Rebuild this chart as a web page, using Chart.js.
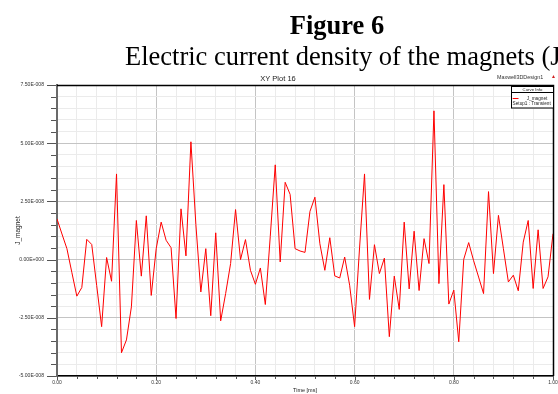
<!DOCTYPE html>
<html>
<head>
<meta charset="utf-8">
<script src="https://cdn.jsdelivr.net/npm/chart.js@4.4.1/dist/chart.umd.min.js"></script>
<style>
html,body{margin:0;padding:0;background:#fff;}
#wrap{position:relative;width:558px;height:394px;}
canvas{display:block;}
</style>
</head>
<body>
<div id="wrap"><canvas id="c" width="558" height="394"></canvas></div>
<script>
const figureTitle = 'Figure 6';
const figureSubtitle = 'Electric current density of the magnets (J';
const plotTitle = 'XY Plot 16';
const designName = 'Maxwell3DDesign1';
const seriesName = 'J_magnet';
const setupName = 'Setup1 : Transient';
const xTitle = 'Time [ms]';
const yTitle = 'J_magnet';

const timeMs = [0.00,0.01,0.02,0.03,0.04,0.05,0.06,0.07,0.08,0.09,
  0.10,0.11,0.12,0.13,0.14,0.15,0.16,0.17,0.18,0.19,
  0.20,0.21,0.22,0.23,0.24,0.25,0.26,0.27,0.28,0.29,
  0.30,0.31,0.32,0.33,0.34,0.35,0.36,0.37,0.38,0.39,
  0.40,0.41,0.42,0.43,0.44,0.45,0.46,0.47,0.48,0.49,
  0.50,0.51,0.52,0.53,0.54,0.55,0.56,0.57,0.58,0.59,
  0.60,0.61,0.62,0.63,0.64,0.65,0.66,0.67,0.68,0.69,
  0.70,0.71,0.72,0.73,0.74,0.75,0.76,0.77,0.78,0.79,
  0.80,0.81,0.82,0.83,0.84,0.85,0.86,0.87,0.88,0.89,
  0.90,0.91,0.92,0.93,0.94,0.95,0.96,0.97,0.98,0.99,
  1.00];

const jMagnet = [1.75e-8,1.1e-8,0.47e-8,-0.56e-8,-1.57e-8,-1.2e-8,0.87e-8,0.65e-8,-1.11e-8,-2.88e-8,
  0.09e-8,-0.93e-8,3.68e-8,-4.0e-8,-3.45e-8,-2.03e-8,1.68e-8,-0.71e-8,1.88e-8,-1.54e-8,
  0.47e-8,1.61e-8,0.83e-8,0.51e-8,-2.53e-8,2.18e-8,0.16e-8,5.06e-8,1.5e-8,-1.39e-8,
  0.47e-8,-2.41e-8,1.15e-8,-2.63e-8,-1.46e-8,-0.17e-8,2.15e-8,0.0,0.86e-8,-0.46e-8,
  -1.06e-8,-0.36e-8,-1.93e-8,1.0e-8,4.07e-8,-0.1e-8,3.32e-8,2.8e-8,0.47e-8,0.37e-8,
  0.31e-8,2.07e-8,2.68e-8,0.68e-8,-0.46e-8,0.94e-8,-0.7e-8,-0.79e-8,0.11e-8,-1.1e-8,
  -2.88e-8,0.5e-8,3.68e-8,-1.71e-8,0.64e-8,-0.6e-8,0.06e-8,-3.31e-8,-0.71e-8,-2.14e-8,
  1.61e-8,-1.26e-8,1.22e-8,-1.33e-8,0.9e-8,-0.17e-8,6.39e-8,-1.03e-8,3.22e-8,-1.91e-8,
  -1.31e-8,-3.53e-8,0.01e-8,0.73e-8,-0.05e-8,-0.75e-8,-1.46e-8,2.92e-8,-0.6e-8,1.9e-8,
  0.47e-8,-0.96e-8,-0.67e-8,-1.34e-8,0.75e-8,1.68e-8,-1.24e-8,1.28e-8,-1.24e-8,-0.74e-8,
  1.11e-8];

const xMin = 0, xMax = 1, xMinorStep = 0.04, xMajorStep = 0.2;
const yMin = -5e-8, yMax = 7.5e-8, yMinorStep = 0.5e-8, yMajorStep = 2.5e-8;

function isMajor(v, step){ return Math.abs(Math.round(v/step)*step - v) < step*1e-6; }
function fmtExp(v){
  const s = v.toExponential(2);
  const [m, e] = s.split('e');
  const sign = e[0] === '-' ? '-' : '+';
  const digits = e.replace(/[+-]/,'');
  return m + 'E' + sign + digits.padStart(3,'0');
}

const points = timeMs.map((t,i)=>({x:t, y:jMagnet[i]}));
const SANS = '"Liberation Sans", Arial, sans-serif';
const SERIF = '"Liberation Serif", "Times New Roman", serif';

const deco = {
  id:'deco',
  beforeDraw(chart){
    const c = chart.ctx;
    c.save(); c.fillStyle='#fff'; c.fillRect(0,0,chart.width,chart.height); c.restore();
  },
  afterDraw(chart){
    const c = chart.ctx, a = chart.chartArea, xs = chart.scales.x, ys = chart.scales.y;
    c.save();
    // top and right frame
    c.strokeStyle='#000'; c.lineWidth=1.5;
    c.beginPath();
    c.moveTo(a.left, a.top+0.5); c.lineTo(a.right+0.5, a.top+0.5); c.lineTo(a.right+0.5, a.bottom);
    c.stroke();
    // y tick marks
    c.strokeStyle='#555'; c.lineWidth=1;
    ys.ticks.forEach(t=>{
      const py = Math.round(ys.getPixelForValue(t.value))+0.5;
      const len = isMajor(t.value, yMajorStep) ? 9 : 5;
      c.beginPath(); c.moveTo(a.left-1-len, py); c.lineTo(a.left-1, py); c.stroke();
    });
    // x tick marks
    xs.ticks.forEach(t=>{
      const px = Math.round(xs.getPixelForValue(t.value))+0.5;
      const len = isMajor(t.value, xMajorStep) ? 4 : 3;
      c.beginPath(); c.moveTo(px, a.bottom); c.lineTo(px, a.bottom+len); c.stroke();
    });
    // headings
    c.fillStyle='#000';
    c.textBaseline='alphabetic';
    c.font = 'bold 26.5px ' + SERIF; c.textAlign='center';
    c.fillText(figureTitle, 337, 34);
    c.font = '26.5px ' + SERIF; c.textAlign='left';
    c.fillText(figureSubtitle, 125, 65);
    c.textBaseline='middle';
    c.fillStyle='#222';
    c.font = '7.5px ' + SANS; c.textAlign='center';
    c.fillText(plotTitle, 278, 78.5);
    c.font = '5.4px ' + SANS; c.textAlign='left';
    c.fillStyle='#333';
    c.fillText(designName, 497, 78);
    c.fillStyle='#d02020';
    c.font = '5px ' + SANS;
    c.fillText('\u25B2', 551, 77);
    // legend box
    c.fillStyle='#fff';
    c.fillRect(511.5, 86.5, 42, 21.5);
    c.strokeStyle='#000'; c.lineWidth=1;
    c.strokeRect(511.5, 86.5, 42, 21.5);
    c.beginPath(); c.moveTo(511.5, 92.5); c.lineTo(553.5, 92.5); c.stroke();
    c.fillStyle='#222';
    c.font = '4.3px ' + SANS; c.textAlign='center';
    c.fillText('Curve Info', 532.5, 89.6);
    c.strokeStyle='#ff0000'; c.lineWidth=1;
    c.beginPath(); c.moveTo(512.7, 98.5); c.lineTo(518.5, 98.5); c.stroke();
    c.font = '4.7px ' + SANS; c.textAlign='left';
    c.fillText(seriesName, 526.7, 98.3);
    c.fillText(setupName, 512.6, 103.6);
    c.restore();
  }
};

new Chart(document.getElementById('c'), {
  type:'line',
  data:{datasets:[{
    label: seriesName,
    data: points,
    borderColor:'#ff0000',
    borderWidth:1,
    pointRadius:0,
    tension:0,
    fill:false
  }]},
  options:{
    responsive:false,
    animation:false,
    events:[],
    layout:{padding:{top:85,right:5,left:0,bottom:0}},
    plugins:{legend:{display:false},tooltip:{enabled:false},title:{display:false}},
    scales:{
      x:{
        type:'linear', min:xMin, max:xMax,
        ticks:{stepSize:xMinorStep, autoSkip:false, maxRotation:0, padding:4,
          color:'#333', font:{size:5, family:SANS},
          callback:(v)=> isMajor(v, xMajorStep) ? v.toFixed(2) : ''},
        grid:{drawTicks:false, lineWidth:1,
          color:(ctx)=> (ctx.tick && isMajor(ctx.tick.value, xMajorStep)) ? '#c4c4c4' : '#ebebeb'},
        border:{display:true, color:'#000', width:1.5},
        title:{display:true, text:xTitle, color:'#222', font:{size:5.5, family:SANS}, padding:{top:0,bottom:0}},
        afterFit:(s)=>{ s.height = 18; s.paddingLeft = 0; s.paddingRight = 0; }
      },
      y:{
        type:'linear', min:yMin, max:yMax,
        ticks:{stepSize:yMinorStep, autoSkip:false, padding:13,
          color:'#333', font:{size:5.1, family:SANS},
          callback:(v)=> isMajor(v, yMajorStep) ? fmtExp(Math.round(v/yMajorStep)*yMajorStep) : ''},
        grid:{drawTicks:false, lineWidth:1,
          color:(ctx)=> (ctx.tick && isMajor(ctx.tick.value, yMajorStep)) ? '#c4c4c4' : '#ebebeb'},
        border:{display:true, color:'#6a6a6a', width:2},
        title:{display:true, text:yTitle, color:'#222', font:{size:6.5, family:SANS}, padding:{top:14,bottom:0}},
        afterFit:(s)=>{ s.width = 57; s.paddingTop = 0; s.paddingBottom = 0; }
      }
    }
  },
  plugins:[deco]
});
</script>
</body>
</html>
